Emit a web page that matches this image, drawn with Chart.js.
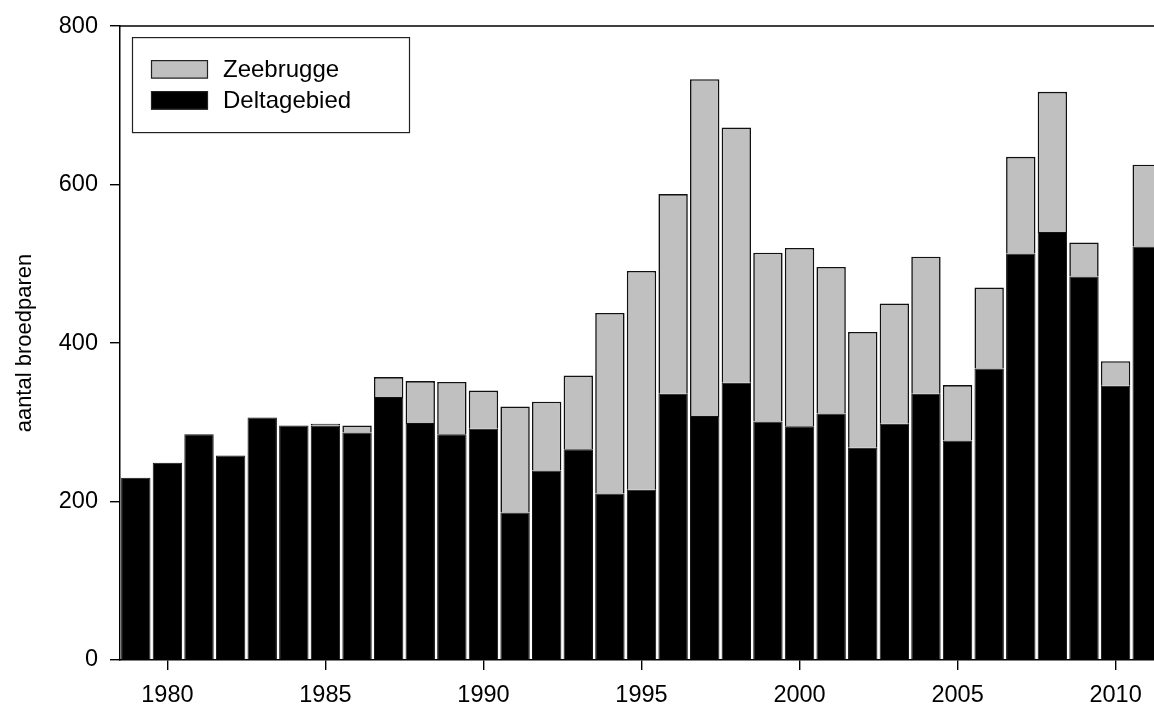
<!DOCTYPE html>
<html>
<head>
<meta charset="utf-8">
<title>Aantal broedparen Deltagebied en Zeebrugge</title>
<script src="https://cdn.jsdelivr.net/npm/chart.js@4.4.0/dist/chart.umd.min.js"></script>
<style>
  html, body { margin: 0; padding: 0; background: #fff; overflow: hidden; }
  #wrap { position: relative; width: 1170px; height: 708px; }
</style>
</head>
<body>
<div id="wrap"><canvas id="broedparen-chart" width="1170" height="708"></canvas></div>
<script>
'use strict';

var years = [1979, 1980, 1981, 1982, 1983, 1984, 1985, 1986, 1987, 1988, 1989,
  1990, 1991, 1992, 1993, 1994, 1995, 1996, 1997, 1998, 1999, 2000,
  2001, 2002, 2003, 2004, 2005, 2006, 2007, 2008, 2009, 2010, 2011];

var deltagebied = [230, 249, 285, 258, 306, 296, 296, 287, 332, 299, 285,
  292, 186, 239, 266, 210, 215, 336, 308, 350, 301, 295,
  311, 268, 298, 336, 277, 368, 513, 540, 484, 346, 522];

var zeebrugge = [0, 0, 0, 0, 0, 0, 2, 9, 25, 53, 66,
  48, 134, 87, 93, 228, 276, 252, 425, 322, 213, 225,
  185, 146, 152, 173, 70, 102, 122, 177, 43, 31, 103];

var xTicks = [1980, 1985, 1990, 1995, 2000, 2005, 2010];
var yTicks = [0, 200, 400, 600, 800];

var FONT = "'Liberation Sans', Arial, sans-serif";

function toPoints(values) {
  return values.map(function(v, i) {
    return { x: years[i], y: v };
  });
}

// NOTE: top frame line of the plot (the reference has a closed top edge)
var topLine = {
  id: 'topLine',
  afterDraw: function(chart) {
    var ctx = chart.ctx;
    var area = chart.chartArea;
    ctx.save();
    ctx.strokeStyle = '#000';
    ctx.lineWidth = 1.5;
    ctx.beginPath();
    ctx.moveTo(area.left, area.top);
    ctx.lineTo(area.right, area.top);
    ctx.stroke();
    ctx.restore();
  }
};

// legend drawn inside the plot, top left, with a frame
var legendBox = {
  id: 'legendBox',
  afterDraw: function(chart) {
    var ctx = chart.ctx;
    var area = chart.chartArea;
    var bx = area.left + 12;
    var by = area.top + 11;
    var sets = chart.data.datasets.slice().reverse();

    ctx.save();
    ctx.fillStyle = '#fff';
    ctx.fillRect(bx, by, 277, 95);
    ctx.strokeStyle = '#222';
    ctx.lineWidth = 1.2;
    ctx.strokeRect(bx + 0.5, by + 0.5, 277, 95);

    ctx.font = '24px ' + FONT;
    ctx.textBaseline = 'middle';
    ctx.textAlign = 'left';
    sets.forEach(function(ds, i) {
      var cy = by + 32 + i * 31;
      ctx.fillStyle = ds.backgroundColor;
      ctx.fillRect(bx + 19, cy - 9, 57, 18.5);
      ctx.strokeStyle = '#222';
      ctx.lineWidth = 1.2;
      ctx.strokeRect(bx + 19.5, cy - 8.5, 56, 17.5);
      ctx.fillStyle = '#000';
      ctx.fillText(ds.label, bx + 91, cy + 1);
    });
    ctx.restore();
  }
};

var ctx = document.getElementById('broedparen-chart').getContext('2d');

var chart = new Chart(ctx, {
  type: 'bar',
  data: {
    datasets: [{
      label: 'Deltagebied',
      data: toPoints(deltagebied),
      backgroundColor: '#000000',
      borderColor: '#111111',
      borderWidth: 1
    }, {
      label: 'Zeebrugge',
      data: toPoints(zeebrugge),
      backgroundColor: '#c0c0c0',
      borderColor: '#111111',
      borderWidth: 1.6
    }]
  },
  options: {
    responsive: false,
    animation: false,
    events: [],
    barPercentage: 0.93,
    categoryPercentage: 1.0,
    layout: {
      padding: { top: 23, right: 7, left: 0, bottom: 0 }
    },
    plugins: {
      legend: { display: false },
      tooltip: { enabled: false }
    },
    scales: {
      x: {
        type: 'linear',
        stacked: true,
        offset: false,
        min: 1978.5,
        max: 2011.5,
        afterBuildTicks: function(scale) {
          scale.ticks = xTicks.map(function(v) { return { value: v }; });
        },
        afterFit: function(scale) {
          scale.height = 48;
        },
        border: { color: '#000', width: 1.5 },
        grid: {
          offset: false,
          drawOnChartArea: false,
          color: '#000',
          lineWidth: 1.4,
          tickLength: 10
        },
        ticks: {
          color: '#000',
          padding: 11,
          maxRotation: 0,
          autoSkip: false,
          font: { family: FONT, size: 23.5 },
          callback: function(value) { return String(value); }
        }
      },
      y: {
        stacked: true,
        min: 0,
        max: 800,
        afterBuildTicks: function(scale) {
          scale.ticks = yTicks.map(function(v) { return { value: v }; });
        },
        afterFit: function(scale) {
          scale.width = 120;
        },
        border: { color: '#000', width: 1.5 },
        grid: {
          drawOnChartArea: false,
          color: '#000',
          lineWidth: 1.4,
          tickLength: 10
        },
        ticks: {
          color: '#000',
          padding: 12,
          font: { family: FONT, size: 23.5 },
          callback: function(value) { return String(value); }
        },
        title: {
          display: true,
          text: 'aantal broedparen',
          color: '#000',
          padding: { top: 12, bottom: 0 },
          font: { family: FONT, size: 22 }
        }
      }
    }
  },
  plugins: [topLine, legendBox]
});
</script>
</body>
</html>
